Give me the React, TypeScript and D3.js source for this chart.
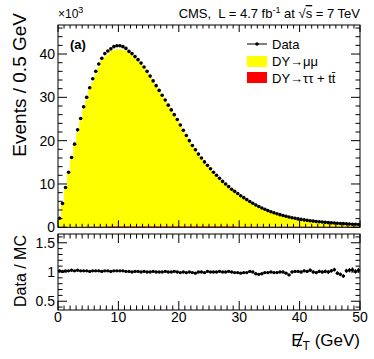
import React from "react";
import * as d3 from "d3";

// Missing ET, 100 bins of 0.5 GeV from 0 to 50 GeV (values in thousands of events)
const dataK = [
  2.1, 5.5, 9.2, 12.7, 16.1, 19.2, 22.5, 25.1, 27.8, 30.0,
  32.2, 34.3, 36.0, 37.7, 39.0, 40.1, 40.7, 41.2, 41.7, 41.9,
  41.9, 41.7, 41.3, 40.6, 40.1, 39.4, 38.7, 37.9, 37.0, 36.0,
  34.9, 33.8, 32.7, 31.6, 30.5, 29.4, 28.2, 27.1, 26.0, 24.9,
  23.6, 22.4, 21.2, 20.0, 18.9, 17.9, 16.9, 16.0, 15.1, 14.3,
  13.5, 12.7, 12.0, 11.3, 10.6, 10.0, 9.4, 8.8, 8.3, 7.8,
  7.3, 6.85, 6.4, 5.95, 5.55, 5.15, 4.8, 4.45, 4.15, 3.85,
  3.6, 3.35, 3.12, 2.92, 2.72, 2.54, 2.38, 2.22, 2.08, 1.94,
  1.82, 1.71, 1.61, 1.52, 1.43, 1.35, 1.28, 1.21, 1.14, 1.08,
  1.03, 0.98, 0.93, 0.88, 0.84, 0.8, 0.76, 0.72, 0.69, 0.66,
];

// Data / MC ratio per bin
const ratio = [
  1.02, 1.01, 1.02, 1.02, 1.03, 1.02, 1.03, 1.02, 1.02, 1.02,
  1.01, 1.02, 1.02, 1.02, 1.01, 1.02, 1.02, 1.01, 1.02, 1.02,
  1.02, 1.02, 1.01, 1.01, 1.0, 1.01, 1.01, 1.0, 1.01, 1.0,
  1.0, 1.01, 1.0, 1.0, 1.0, 1.01, 1.0, 1.0, 1.01, 1.0,
  0.99, 1.0, 0.99, 1.0, 0.99, 0.98, 1.0, 1.0, 0.99, 1.01,
  1.0, 1.0, 1.0, 1.01, 1.0, 1.0, 1.01, 1.0, 0.99, 0.99,
  0.98, 0.99, 0.99, 1.01, 1.0, 0.97, 0.96, 0.97, 0.99, 0.99,
  1.0, 0.99, 0.99, 1.0, 1.0, 0.98, 0.95, 1.0, 1.01, 1.01,
  1.0, 1.02, 1.01, 1.03, 1.0, 0.99, 1.01, 1.0, 1.01, 1.0,
  1.02, 1.04, 0.98, 0.96, 0.93, 1.02, 1.03, 1.04, 1.01, 1.03,
];

// DY->tautau + ttbar background (thousands)
const bkgK = [
  0.02, 0.04, 0.06, 0.08, 0.1, 0.11, 0.12, 0.14, 0.15, 0.16,
  0.17, 0.18, 0.19, 0.2, 0.2, 0.21, 0.22, 0.22, 0.23, 0.23,
  0.24, 0.24, 0.24, 0.25, 0.25, 0.25, 0.25, 0.26, 0.26, 0.26,
  0.26, 0.26, 0.26, 0.26, 0.26, 0.26, 0.26, 0.26, 0.25, 0.25,
  0.25, 0.25, 0.25, 0.25, 0.24, 0.24, 0.24, 0.24, 0.24, 0.23,
  0.23, 0.23, 0.23, 0.23, 0.22, 0.22, 0.22, 0.22, 0.22, 0.21,
  0.21, 0.21, 0.21, 0.21, 0.2, 0.2, 0.2, 0.2, 0.2, 0.2,
  0.19, 0.19, 0.19, 0.19, 0.19, 0.19, 0.18, 0.18, 0.18, 0.18,
  0.18, 0.18, 0.18, 0.17, 0.17, 0.17, 0.17, 0.17, 0.17, 0.17,
  0.16, 0.16, 0.16, 0.16, 0.16, 0.16, 0.16, 0.15, 0.15, 0.15,
];

const xTicks = [0, 10, 20, 30, 40, 50];
const yTicksTop = [0, 10, 20, 30, 40];
const yTicksRatio = [0.5, 1, 1.5];
const binWidth = 0.5;

const FONT = "'Liberation Sans', Arial, Helvetica, sans-serif";

export default function App() {
  const L = 58, R = 360;
  const topT = 25, topB = 227.3;
  const botT = 234, botB = 310;

  const x = d3.scaleLinear().domain([0, 50]).range([L, R]);
  const y = d3.scaleLinear().domain([0, 46.7]).range([topB, topT]);
  const yr = d3.scaleLinear().domain([0.35, 1.65]).range([botB, botT]);

  const bins = dataK.map((d, i) => {
    const lo = i * binWidth;
    const mc = d / ratio[i];
    return { lo, hi: lo + binWidth, c: lo + binWidth / 2, data: d, mc, bkg: bkgK[i], r: ratio[i], err: Math.sqrt(d * 1000) / (d * 1000) * ratio[i] };
  });
  const stepPts = [...bins, { ...bins[bins.length - 1], lo: 50 }];

  const redArea = d3.area<any>().x((b) => x(b.lo)).y0(y(0)).y1((b) => y(b.bkg)).curve(d3.curveStepAfter);
  const yellowArea = d3.area<any>().x((b) => x(b.lo)).y0((b) => y(b.bkg)).y1((b) => y(b.mc)).curve(d3.curveStepAfter);

  const xMinor = d3.range(0, 50.01, 1);
  const yMinorTop = d3.range(0, 46.7, 2);
  const yMinorRatio = d3.range(0.4, 1.65, 0.1);

  const tickLines: React.ReactNode[] = [];
  xMinor.forEach((v, i) => {
    const major = Math.abs(v % 10) < 1e-6;
    const len = major ? 7 : 3.5;
    tickLines.push(<line key={"tb" + i} x1={x(v)} x2={x(v)} y1={topB} y2={topB - len} />);
    tickLines.push(<line key={"tt" + i} x1={x(v)} x2={x(v)} y1={topT} y2={topT + len} />);
    const len2 = major ? 9 : 4.5;
    tickLines.push(<line key={"bb" + i} x1={x(v)} x2={x(v)} y1={botB} y2={botB - len2} />);
    tickLines.push(<line key={"bt" + i} x1={x(v)} x2={x(v)} y1={botT} y2={botT + len2} />);
  });
  yMinorTop.forEach((v, i) => {
    const major = Math.abs(v % 10) < 1e-6;
    const len = major ? 9 : 4.5;
    tickLines.push(<line key={"yl" + i} x1={L} x2={L + len} y1={y(v)} y2={y(v)} />);
    tickLines.push(<line key={"yr" + i} x1={R} x2={R - len} y1={y(v)} y2={y(v)} />);
  });
  yMinorRatio.forEach((v, i) => {
    const major = Math.abs(v * 2 - Math.round(v * 2)) < 1e-6;
    const len = major ? 9 : 4.5;
    tickLines.push(<line key={"rl" + i} x1={L} x2={L + len} y1={yr(v)} y2={yr(v)} />);
    tickLines.push(<line key={"rr" + i} x1={R} x2={R - len} y1={yr(v)} y2={yr(v)} />);
  });

  return (
    <svg width={374} height={359} style={{ position: "absolute", left: 0, top: 0, background: "#fff" }} fontFamily={FONT}>
      <rect x={0} y={0} width={374} height={359} fill="#fff" />
      {/* header */}
      <text x={58} y={18} fontSize={12}>×10<tspan dy={-5} fontSize={9}>3</tspan></text>
      <text x={360} y={18} fontSize={13} textAnchor="end">
        {"CMS,\u00A0\u00A0L = 4.7 fb"}<tspan dy={-5} fontSize={9}>-1</tspan><tspan dy={5}>{" at √"}</tspan>
        <tspan style={{ textDecoration: "overline" }}>s</tspan>{" = 7 TeV"}
      </text>

      {/* top panel */}
      <path d={redArea(stepPts) || ""} fill="#ff0000" />
      <path d={yellowArea(stepPts) || ""} fill="#ffff00" />
      {bins.map((b, i) => (
        <circle key={"d" + i} cx={x(b.c)} cy={y(b.data)} r={1.8} fill="#000" />
      ))}
      <g stroke="#000" strokeWidth={1}>{tickLines}</g>
      <rect x={L} y={topT} width={R - L} height={topB - topT} fill="none" stroke="#000" strokeWidth={1} />
      <text x={70} y={49} fontSize={13} fontWeight="bold">(a)</text>

      {yTicksTop.map((v) => (
        <text key={"yt" + v} x={55} y={y(v) + 5} fontSize={14} textAnchor="end">{v}</text>
      ))}
      <text transform="translate(25.5,13) rotate(-90)" fontSize={19} textAnchor="end">Events / 0.5 GeV</text>

      {/* legend */}
      <line x1={247} x2={267} y1={44} y2={44} stroke="#000" strokeWidth={1} />
      <circle cx={257} cy={44} r={1.8} fill="#000" />
      <text x={272} y={48.5} fontSize={13}>Data</text>
      <rect x={247} y={56} width={20} height={11} fill="#ffff00" />
      <text x={272} y={66} fontSize={13}>DY→μμ</text>
      <rect x={247} y={72} width={20} height={11} fill="#ff0000" />
      <text x={272} y={83} fontSize={13}>DY→ττ + tt̄</text>

      {/* ratio panel */}
      <g stroke="#000" strokeWidth={1}>
        {bins.map((b, i) => (
          <g key={"r" + i}>
            <line x1={x(b.lo)} x2={x(b.hi)} y1={yr(b.r)} y2={yr(b.r)} />
            <line x1={x(b.c)} x2={x(b.c)} y1={yr(b.r - b.err)} y2={yr(b.r + b.err)} />
          </g>
        ))}
      </g>
      {bins.map((b, i) => (
        <circle key={"rc" + i} cx={x(b.c)} cy={yr(b.r)} r={1.7} fill="#000" />
      ))}
      <rect x={L} y={botT} width={R - L} height={botB - botT} fill="none" stroke="#000" strokeWidth={1} />
      {yTicksRatio.map((v) => (
        <text key={"ry" + v} x={55} y={yr(v) + 5} fontSize={14} textAnchor="end">{v}</text>
      ))}
      {xTicks.map((v) => (
        <text key={"xt" + v} x={x(v)} y={322} fontSize={14} textAnchor="middle">{v}</text>
      ))}
      <text transform="translate(25.5,235) rotate(-90)" fontSize={16} textAnchor="end">Data / MC</text>

      {/* x title */}
      <text x={360} y={346} fontSize={17} textAnchor="end">E<tspan dy={4} fontSize={12}>T</tspan><tspan dy={-4}> (GeV)</tspan></text>
      <line x1={297} x2={303} y1={347} y2={332} stroke="#000" strokeWidth={1.2} />
    </svg>
  );
}
